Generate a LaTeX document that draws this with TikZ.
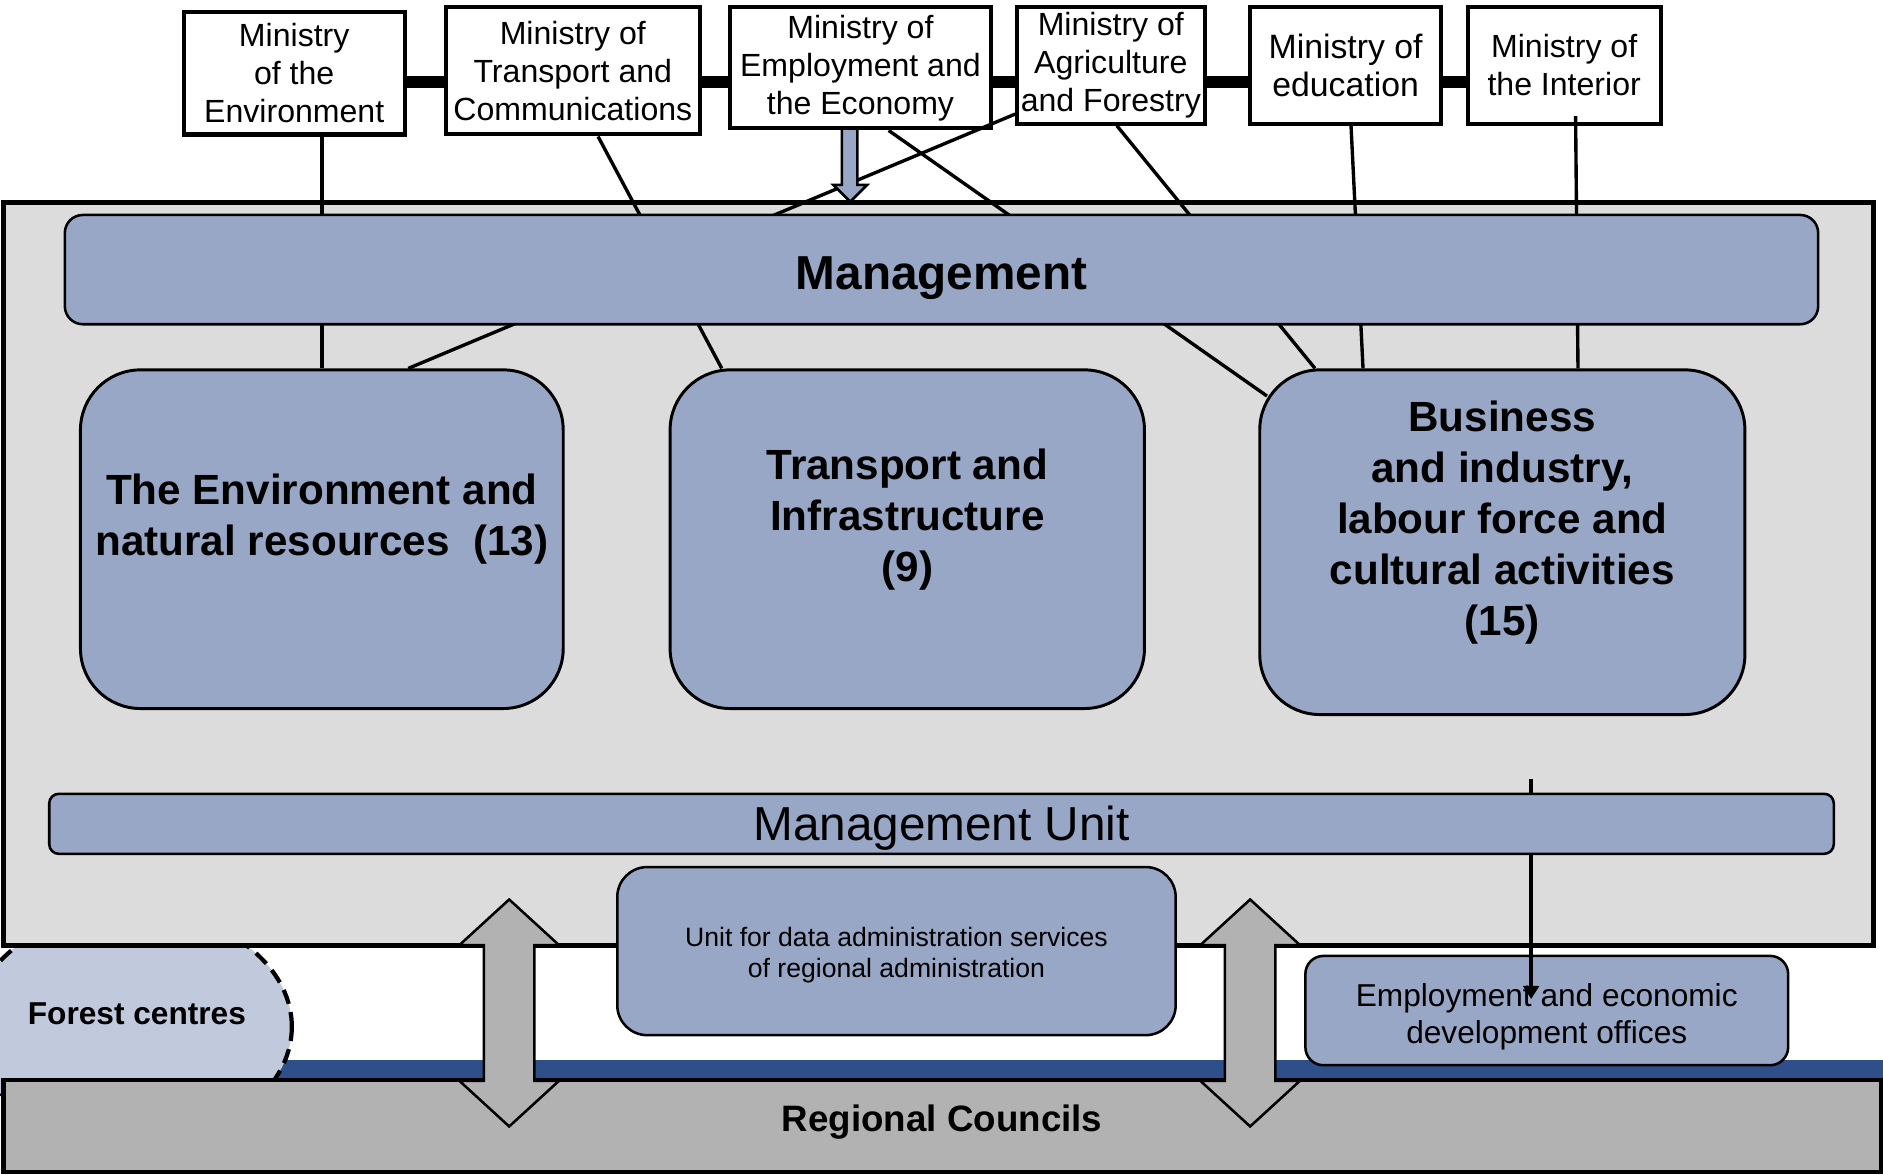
\documentclass[tikz,border=0pt]{standalone}
\usepackage{fontspec}
\setmainfont{Liberation Sans}
\usetikzlibrary{arrows, arrows.meta, shapes.geometric}

\definecolor{boxblue}{HTML}{97A7C5}
\definecolor{panelgray}{HTML}{DCDCDC}
\definecolor{forestblue}{HTML}{C0CADC}
\definecolor{bandblue}{HTML}{2E4F8A}
\definecolor{councilgray}{HTML}{B2B2B2}

\tikzset{
  ministry/.style={draw, line width=0.95pt, fill=white, align=center, inner sep=0pt, font=\fontsize{7.6}{9}\selectfont},
  ministrylink/.style={line width=2.8pt},
  tie/.style={line width=0.8pt},
  sector/.style={draw, line width=0.7pt, fill=boxblue, rounded corners=0.5cm, inner sep=0pt},
  sectorlabel/.style={align=center, font=\fontsize{10}{12.1}\selectfont\bfseries},
  bar/.style={draw, line width=0.6pt, fill=boxblue, inner sep=0pt},
  barlabel/.style={align=center},
  updown/.style={draw, line width=0.6pt, fill=councilgray},
}

\begin{document}
\begin{tikzpicture}
\useasboundingbox (0,0) rectangle (15.68,9.78);

\fill[bandblue] (1.5,0.78) rectangle (15.68,0.95);
\node[draw, ellipse, line width=1pt, dash pattern=on 3.5pt off 2pt, fill=forestblue, minimum width=2.66cm, minimum height=1.94cm, inner sep=0pt] (forest) at (1.10,1.23) {};

\node[draw, line width=1pt, fill=councilgray, minimum width=15.63cm, minimum height=0.77cm, inner sep=0pt] (council) at (7.845,0.405) {};
\node[font=\fontsize{8.7}{10}\selectfont\bfseries] at ([yshift=0.35mm]council.center) {Regional Councils};

\node[draw, line width=1.2pt, fill=panelgray, minimum width=15.57cm, minimum height=6.18cm, inner sep=0pt] (panel) at (7.815,5.00) {};

%ministries
\node[ministry, minimum width=1.84cm, minimum height=1.02cm] (menv) at (2.45,9.17) {Ministry\\of the\\Environment};
\node[ministry, minimum width=2.12cm, minimum height=1.06cm] (mtra) at (4.77,9.19) {Ministry of\\Transport and\\Communications};
\node[ministry, minimum width=2.17cm, minimum height=1.01cm] (memp) at (7.165,9.215) {Ministry of\\Employment and\\the Economy};
\node[ministry, minimum width=1.56cm, minimum height=0.97cm] (magr) at (9.25,9.235) {Ministry of\\Agriculture\\and Forestry};
\node[ministry, minimum width=1.59cm, minimum height=0.97cm, font=\fontsize{8}{9.1}\selectfont] (medu) at (11.205,9.235) {Ministry of\\education};
\node[ministry, minimum width=1.61cm, minimum height=0.97cm] (mint) at (13.025,9.235) {Ministry of\\the Interior};

\coordinate (linkrow) at (0,9.10);
\draw[ministrylink] (menv.east |- linkrow) -- (mtra.west |- linkrow);
\draw[ministrylink] (mtra.east |- linkrow) -- (memp.west |- linkrow);
\draw[ministrylink] (memp.east |- linkrow) -- (magr.west |- linkrow);
\draw[ministrylink] (magr.east |- linkrow) -- (medu.west |- linkrow);
\draw[ministrylink] (medu.east |- linkrow) -- (mint.west |- linkrow);

%sectors
\node[sector, minimum width=4.02cm, minimum height=2.82cm] (envbox) at (2.68,5.29) {};
\node[sector, minimum width=3.95cm, minimum height=2.82cm] (trbox) at (7.555,5.29) {};
\node[sector, minimum width=4.04cm, minimum height=2.87cm] (bsbox) at (12.51,5.265) {};

\node[sectorlabel] at ([yshift=1.65mm]envbox.center) {The Environment and\\natural resources~ (13)};
\node[sectorlabel] at ([yshift=1.6mm]trbox.center) {Transport and\\Infrastructure\\(9)};
\node[sectorlabel] at ([yshift=1.65mm]bsbox.center) {Business\\and industry,\\labour force and\\cultural activities\\(15)};

\draw[tie] (envbox.north |- menv.south) -- (envbox.north);
\draw[tie] ([xshift=2.1mm]mtra.south) -- ([xshift=-15.45mm]trbox.north);
\draw[tie] ([yshift=-4.05mm]magr.west) -- ([xshift=7.2mm]envbox.north);
\draw[tie] ([xshift=2.35mm]memp.south) -- ([xshift=-19.6mm,yshift=-2.3mm]bsbox.north);
\draw[tie] ([xshift=0.5mm]magr.south) -- ([xshift=-15.6mm]bsbox.north);
\draw[tie] ([xshift=0.45mm]medu.south) -- ([xshift=-11.6mm]bsbox.north);
\draw[tie] ([xshift=0.95mm,yshift=0.8mm]mint.south) -- ([xshift=6.3mm]bsbox.north);

\draw[line width=0.6pt, fill=boxblue] (7.01,8.71) -- (7.14,8.71) -- (7.14,8.24) -- (7.22,8.24) -- (7.08,8.10) -- (6.94,8.24) -- (7.01,8.24) -- cycle;

\node[bar, rounded corners=0.15cm, minimum width=14.60cm, minimum height=0.91cm] (mgmt) at (7.84,7.535) {};
\node[barlabel, font=\fontsize{11.3}{13}\selectfont\bfseries] at ([yshift=-0.7mm]mgmt.center) {Management};

%lower units
\node[bar, rounded corners=0.25cm, minimum width=4.65cm, minimum height=1.40cm] (dataunit) at (7.465,1.86) {};
\node[barlabel, font=\fontsize{6.3}{7.4}\selectfont] at ([yshift=-0.35mm]dataunit.center) {Unit for data administration services\\of regional administration};
\node[bar, rounded corners=0.15cm, minimum width=4.02cm, minimum height=0.91cm] (eoffice) at (12.88,1.365) {};
\node[barlabel, font=\fontsize{7.5}{8.8}\selectfont] at ([yshift=-0.5mm]eoffice.center) {Employment and economic\\development offices};

\coordinate (feedtop) at (12.75,3.29);
\draw[line width=1pt, -{Triangle[length=1.1mm, width=1.3mm]}] (feedtop) -- ([yshift=-3.7mm]feedtop |- eoffice.north);

\node[bar, rounded corners=0.08cm, minimum width=14.86cm, minimum height=0.50cm] (mgmtunit) at (7.84,2.92) {};
\node[barlabel, font=\fontsize{11.3}{13}\selectfont] at ([yshift=-0.4mm]mgmtunit.center) {Management Unit};

\draw[updown] (4.24,2.29) -- (4.655,1.91) -- (4.45,1.91) -- (4.45,0.78) -- (4.655,0.78) -- (4.24,0.40) -- (3.825,0.78) -- (4.03,0.78) -- (4.03,1.91) -- (3.825,1.91) -- cycle;
\draw[updown] (10.41,2.29) -- (10.825,1.91) -- (10.62,1.91) -- (10.62,0.78) -- (10.825,0.78) -- (10.41,0.40) -- (9.995,0.78) -- (10.20,0.78) -- (10.20,1.91) -- (9.995,1.91) -- cycle;

\node[font=\fontsize{7.5}{9}\selectfont\bfseries] at ([xshift=0.4mm,yshift=1.1mm]forest.center) {Forest centres};
\end{tikzpicture}
\end{document}
